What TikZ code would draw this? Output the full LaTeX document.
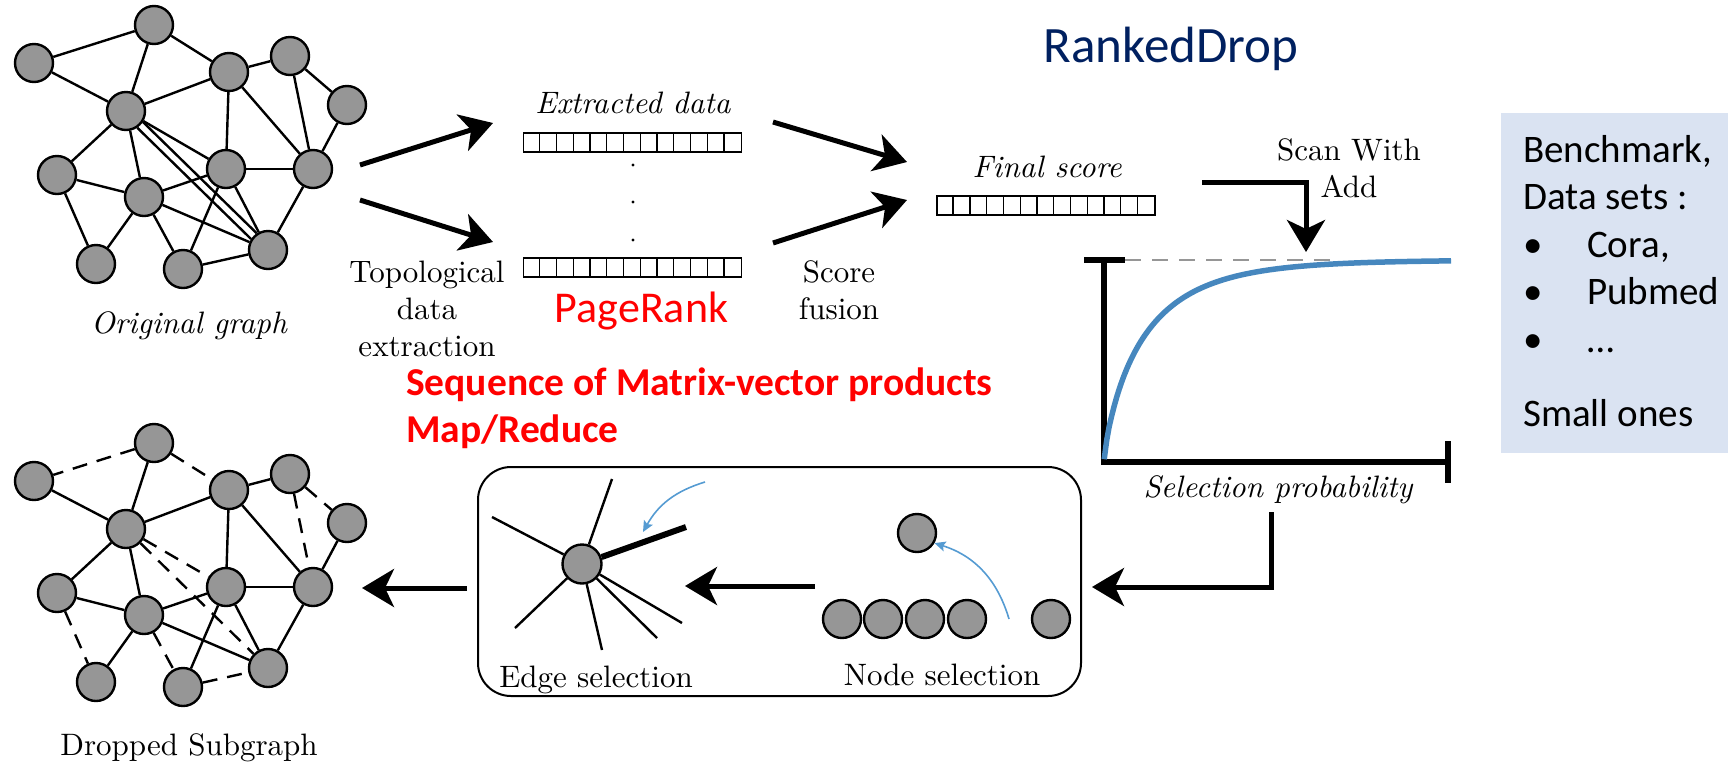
\documentclass[tikz,border=0pt]{standalone}
\usepackage{fontspec}
\newfontfamily\calfont{Carlito}
\usetikzlibrary{arrows.meta,calc}
\definecolor{nodegray}{RGB}{150,150,150}
\definecolor{curveblue}{RGB}{70,135,190}
\definecolor{hintblue}{RGB}{85,155,210}
\definecolor{titlenavy}{RGB}{0,32,96}
\definecolor{panelblue}{RGB}{218,227,242}
\definecolor{guidegray}{RGB}{150,150,150}
\begin{document}
\begin{tikzpicture}[x=1pt,y=-1pt,
  gnode/.style={circle,draw,line width=2.4pt,fill=nodegray,minimum size=38pt,inner sep=0pt},
  edge/.style={line width=2.4pt},
  dropedge/.style={edge,dash pattern=on 15pt off 10pt},
  bigarrow/.style={line width=5pt,-{Stealth[length=32pt,width=38pt,inset=9pt]}},
  hintarrow/.style={line width=1.6pt,draw=hintblue,-{Stealth[length=11pt,width=10pt,inset=2pt]}},
  cmlabel/.style={scale=3.1,inner sep=0pt},
  vecbox/.style={draw,line width=1.3pt,minimum width=218pt,minimum height=19pt,inner sep=0pt},
  cell/.style={line width=1.3pt},
  axis/.style={line width=6pt}]
\useasboundingbox (0,0) rectangle (1728,764);

% ---------- original graph (a) and dropped subgraph (b) ----------
\foreach \n/\x/\y in {1/154/25, 2/34/63, 3/126/111, 4/229/72, 5/290/56, 6/347/105,
                      7/57/175, 8/144/197, 9/226/169, 10/313/169, 11/96/264,
                      12/183/269, 13/268/250} {
  \node[gnode] (a\n) at (\x,\y) {};
  \node[gnode] (b\n) at (\x,\y+418) {};
}
\foreach \u/\v in {1/2,1/3,1/4,2/3,3/4,4/5,5/6,5/10,6/10,4/9,4/10,3/7,3/8,3/9,
                   7/8,7/11,8/11,8/9,8/12,8/13,9/10,9/12,9/13,10/13,12/13}
  \draw[edge] (a\u) -- (a\v);
\draw[edge] (a3.-33) -- (a13.124);
\draw[edge] (a3.-56) -- (a13.147);

\foreach \u/\v in {1/3,2/3,3/4,4/5,6/10,4/9,4/10,3/7,3/8,7/8,8/11,8/9,8/13,
                   9/10,9/12,9/13,10/13}
  \draw[edge] (b\u) -- (b\v);
\foreach \u/\v in {1/2,1/4,5/6,5/10,3/9,3/13,7/11,8/12,12/13}
  \draw[dropedge] (b\u) -- (b\v);

\node[cmlabel,anchor=base] (tOrig) at (189,333) {\itshape Original graph};
\node[cmlabel,anchor=base] (tDrop) at (189,755) {Dropped Subgraph};

% ---------- extracted data vectors ----------
\node[vecbox] (vTop) at (632.5,142.5) {};
\node[vecbox] (vBot) at (632.5,267.5) {};
\node[vecbox] (vFin) at (1046,205.5) {};
\foreach \i in {1,...,12} {
  \draw[cell] ($(vTop.north west)+(\i*16.77,0)$) -- ++(0,19);
  \draw[cell] ($(vBot.north west)+(\i*16.77,0)$) -- ++(0,19);
  \draw[cell] ($(vFin.north west)+(\i*16.77,0)$) -- ++(0,19);
}
\foreach \y in {165,202,240} \fill (633,\y) circle (1.7pt);

\node[cmlabel,anchor=base] (tExt) at (633,113) {\itshape Extracted data};
\node[cmlabel,align=center] (tTopo) at (427,309) {Topological\\data\\extraction};
\node[anchor=base,text=red,font=\calfont\fontsize{44}{53}\selectfont] (tPR) at (641.5,322) {PageRank};
\node[anchor=north west,inner sep=0pt,text=red,align=left,
      font=\calfont\bfseries\fontsize{39.5}{46.7}\selectfont] (tSeq) at (406,367.4) {Sequence of Matrix-vector products\\Map/Reduce};

% arrows from the graph to the vectors
\coordinate (g1) at (360,165);  \coordinate (e1) at (493,123);
\coordinate (g2) at (360,200);  \coordinate (e2) at (493,242);
\draw[bigarrow] (g1) -- (e1);
\draw[bigarrow] (g2) -- (e2);

% score fusion
\coordinate (f1) at (773,122);  \coordinate (h1) at (907,162);
\coordinate (f2) at (773,243);  \coordinate (h2) at (907,200);
\draw[bigarrow] (f1) -- (h1);
\draw[bigarrow] (f2) -- (h2);
\node[cmlabel,align=center] (tFus) at (839,290) {Score\\fusion};
\node[cmlabel,anchor=base] (tFin) at (1047,177) {\itshape Final score};

% ---------- title ----------
\node[anchor=base,text=titlenavy,font=\calfont\fontsize{51}{61}\selectfont] (title) at (1171,62) {RankedDrop};

% ---------- scan / selection probability plot ----------
\coordinate (s1) at (1202,182);  \coordinate (s2) at (1306,252);
\draw[bigarrow] (s1) -| (s2);
\node[cmlabel,align=center] (tScan) at (1349,168) {Scan With\\Add};

\coordinate (ax0) at (1104,462);
\coordinate (axT) at (1104,260);
\coordinate (axR) at (1448,462);
\draw[guidegray,line width=2pt,dash pattern=on 16pt off 11pt] (1125,260) -- (1335,260);
\draw[axis] (axT) -- (ax0) -- (axR);
\draw[axis] (1084,260) -- (1125,260);
\draw[axis] (1448,441) -- (1448,483);
\draw[curveblue,line width=5.5pt] plot[domain=0.2:347,samples=140]
  ({1104+\x},{462-202*(1-exp(-(\x/41.5)^0.8))});
\node[cmlabel,anchor=base] (tSel) at (1278,497) {\itshape Selection probability};

% ---------- selection panel ----------
\node[draw,line width=2pt,rounded corners=33pt,minimum width=603pt,minimum height=229pt,
      anchor=north west,inner sep=0pt] (selbox) at (477,466) {};

\coordinate (p1) at (1271,512);  \coordinate (p2) at (1092,587);
\draw[bigarrow] (p1) |- (p2);

% node selection
\node[gnode] (ns0) at (917,533) {};
\foreach \i/\x in {1/842,2/883,3/925,4/967,5/1051}
  \node[gnode] (ns\i) at (\x,619) {};
\coordinate (nsA) at (1009,619);
\draw[hintarrow] (nsA) to[bend right=28] (ns0.-30);
\node[cmlabel,anchor=base] (tNode) at (942,685) {Node selection};

\coordinate (m1) at (815,586);  \coordinate (m2) at (685,586);
\draw[bigarrow] (m1) -- (m2);

% edge selection
\node[gnode,minimum size=39pt] (es) at (582,564) {};
\foreach \k/\x/\y in {1/612/479, 2/492/517, 3/515/628, 4/602/650, 5/657/638, 6/682/623}
  \coordinate (sp\k) at (\x,\y);
\foreach \k in {1,...,6} \draw[edge] (es) -- (sp\k);
\coordinate (spT) at (686,527);
\draw[line width=6pt] (es) -- (spT);
\coordinate (esA) at (705,482);  \coordinate (esB) at (643,532);
\draw[hintarrow] (esA) to[bend right=22] (esB);
\node[cmlabel,anchor=base] (tEdge) at (596,687) {Edge selection};

\coordinate (d1) at (467,588);  \coordinate (d2) at (362,588);
\draw[bigarrow] (d1) -- (d2);

% ---------- benchmark panel ----------
\node[fill=panelblue,anchor=north west,minimum width=227pt,minimum height=340pt,inner sep=0pt] (bench) at (1501,113) {};
\node[anchor=north west,inner sep=0pt,align=left,
      font=\calfont\fontsize{39}{47.5}\selectfont] (benchtxt) at (1523,135)
  {Benchmark,\\Data sets :\\\makebox[64pt][l]{•}Cora,\\\makebox[64pt][l]{•}Pubmed\\\makebox[64pt][l]{•}…\\[26.5pt]Small ones};
\end{tikzpicture}
\end{document}
